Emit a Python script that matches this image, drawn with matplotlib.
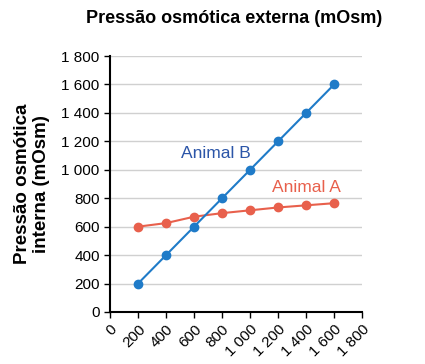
import matplotlib
matplotlib.use('Agg')
import matplotlib.pyplot as plt

plt.rcParams['font.family'] = ['Liberation Sans', 'DejaVu Sans']

# dados
externa = [200, 400, 600, 800, 1000, 1200, 1400, 1600]
animal_a = [600, 625, 670, 695, 715, 735, 750, 765]
animal_b = [200, 400, 600, 800, 1000, 1200, 1400, 1600]
ticks = [0, 200, 400, 600, 800, 1000, 1200, 1400, 1600, 1800]
tick_labels = ['0', '200', '400', '600', '800', '1 000', '1 200', '1 400', '1 600', '1 800']

red = '#e8604c'
blue = '#1f7bc8'

fig = plt.figure(figsize=(4.25, 3.64), dpi=100)
ax = fig.add_axes([0.259, 0.143, 0.593, 0.703])

ax.plot(externa, animal_a, color=red, marker='o', markersize=6, lw=1.5, zorder=3)
ax.plot(externa, animal_b, color=blue, marker='o', markersize=6, lw=1.5, zorder=3)

ax.text(505, 1083, 'Animal B', color='#2b55a8', fontsize=12.5, va='baseline')
ax.text(1160, 844, 'Animal A', color=red, fontsize=12.5, va='baseline')

ax.set_xlim(0, 1800)
ax.set_ylim(0, 1800)
ax.set_xticks(ticks)
ax.set_xticklabels(tick_labels, rotation=45, ha='right', va='top', rotation_mode='anchor', fontsize=11)
ax.set_yticks(ticks)
ax.set_yticklabels(tick_labels, fontsize=11)
ax.yaxis.grid(True, color='#d0d0d0', lw=1)
ax.set_axisbelow(True)
for s in ['top', 'right']:
    ax.spines[s].set_visible(False)
for s in ['left', 'bottom']:
    ax.spines[s].set_linewidth(1.5)
ax.tick_params(direction='out', length=4, width=1)

ax.set_ylabel('Pressão osmótica\ninterna (mOsm)', fontsize=13.5, fontweight='bold', labelpad=8)
fig.text(0.55, 0.948, 'Pressão osmótica externa (mOsm)', fontsize=13, fontweight='bold', ha='center', va='center')

fig.savefig('out.png', dpi=100)
